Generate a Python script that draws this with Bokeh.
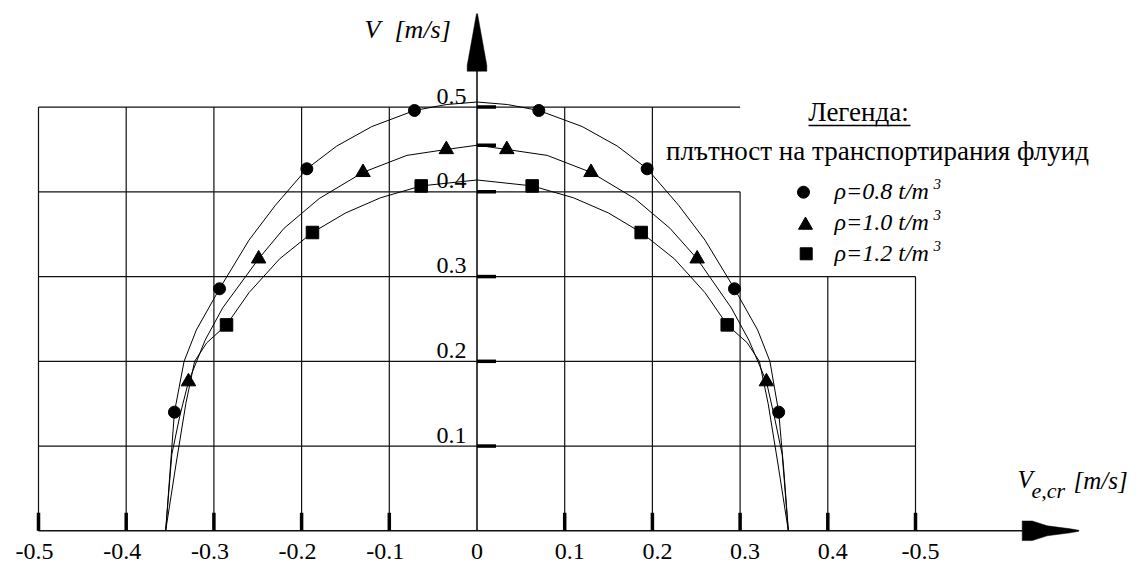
from bokeh.plotting import figure
from bokeh.models import Range1d
from bokeh.embed import file_html
from bokeh.resources import INLINE
from bokeh.core.properties import value

# ---------------- data ----------------
x_tick_values = [-0.5, -0.4, -0.3, -0.2, -0.1, 0.0, 0.1, 0.2, 0.3, 0.4, 0.5]
x_tick_labels = ["-0.5", "-0.4", "-0.3", "-0.2", "-0.1", "0", "0.1", "0.2", "0.3", "0.4", "-0.5"]
y_tick_values = [0.1, 0.2, 0.3, 0.4, 0.5]
y_tick_labels = ["0.1", "0.2", "0.3", "0.4", "0.5"]
y_extra_tick = [0.455]

legend_title = "Легенда:"
legend_subtitle = "плътност на транспортирания флуид"
series_labels = ["ρ=0.8 t/m", "ρ=1.0 t/m", "ρ=1.2 t/m"]
series_markers = ["circle", "triangle", "square"]

# measured points
rho08_pts_x = [-0.345, -0.2936, -0.194, -0.0713, 0.0705, 0.194, 0.2936, 0.344]
rho08_pts_v = [0.140, 0.2856, 0.4272, 0.496, 0.496, 0.4272, 0.2856, 0.140]
rho10_pts_x = [-0.329, -0.249, -0.130, -0.035, 0.034, 0.130, 0.251, 0.330]
rho10_pts_v = [0.176, 0.321, 0.423, 0.450, 0.450, 0.423, 0.321, 0.176]
rho12_pts_x = [-0.2856, -0.1876, -0.0636, 0.0629, 0.1872, 0.2853]
rho12_pts_v = [0.243, 0.352, 0.407, 0.407, 0.352, 0.243]

# curves drawn through the points
rho08_curve_x = [-0.355, -0.350, -0.345, -0.334, -0.320, -0.2936, -0.260, -0.230, -0.194, -0.160, -0.120,
                 -0.0713, -0.035, 0.0, 0.035, 0.0705, 0.120, 0.160, 0.194, 0.230, 0.260, 0.2936, 0.320,
                 0.334, 0.344, 0.350, 0.355]
rho08_curve_v = [0.0, 0.070, 0.140, 0.200, 0.237, 0.2856, 0.343, 0.384, 0.4272, 0.454, 0.477,
                 0.496, 0.503, 0.506, 0.503, 0.496, 0.477, 0.454, 0.4272, 0.384, 0.343, 0.2856, 0.237,
                 0.200, 0.140, 0.070, 0.0]
rho10_curve_x = [-0.355, -0.348, -0.339, -0.329, -0.310, -0.290, -0.249, -0.220, -0.180, -0.130, -0.080,
                 -0.035, 0.0, 0.034, 0.080, 0.130, 0.180, 0.220, 0.251, 0.290, 0.310, 0.330, 0.339,
                 0.348, 0.355]
rho10_curve_v = [0.0, 0.090, 0.135, 0.176, 0.225, 0.263, 0.321, 0.357, 0.392, 0.423, 0.443,
                 0.450, 0.455, 0.450, 0.443, 0.423, 0.392, 0.357, 0.321, 0.263, 0.225, 0.176, 0.135,
                 0.090, 0.0]
rho12_curve_x = [-0.355, -0.343, -0.332, -0.322, -0.308, -0.2856, -0.260, -0.225, -0.1876, -0.150, -0.110,
                 -0.0636, 0.0, 0.0629, 0.110, 0.150, 0.1872, 0.225, 0.260, 0.2853, 0.308, 0.322, 0.332,
                 0.343, 0.355]
rho12_curve_v = [0.0, 0.080, 0.150, 0.200, 0.222, 0.243, 0.281, 0.321, 0.352, 0.375, 0.393,
                 0.407, 0.414, 0.407, 0.393, 0.375, 0.352, 0.321, 0.281, 0.243, 0.222, 0.200, 0.150,
                 0.080, 0.0]

# irregular grid of the drawing
h_grid_y = [0.1, 0.2, 0.3, 0.4, 0.5]
h_grid_right = [0.5, 0.5, 0.5, 0.3, 0.3]
v_grid_x = [-0.5, -0.4, -0.3, -0.2, -0.1, 0.1, 0.2, 0.3, 0.4, 0.5]
v_grid_top = [0.5, 0.5, 0.5, 0.5, 0.5, 0.5, 0.5, 0.4, 0.3, 0.3]

# ---------------- layout helpers (pixel -> data) ----------------
W, H = 1142, 565
SX, SY = 877.0, 847.4
OX, OY = 476.5, 530.3


def X(px):
    return (px - OX) / SX


def Y(py):
    return (OY - py) / SY


FONT = value("Liberation Serif")
BASE_FIX = 0.33  # em correction so that the given y is the text baseline

p = figure(width=W, height=H,
           x_range=Range1d(X(0), X(W)), y_range=Range1d(Y(H), Y(0)),
           x_axis_type=None, y_axis_type=None,
           output_backend="svg", toolbar_location=None, min_border=0,
           outline_line_color=None, background_fill_color="white", border_fill_color="white")

INK = "#111111"

# grid
p.segment(x0=[-0.5] * len(h_grid_y), y0=h_grid_y, x1=h_grid_right, y1=h_grid_y,
          line_color=INK, line_width=1.2)
p.segment(x0=v_grid_x, y0=[0.0] * len(v_grid_x), x1=v_grid_x, y1=v_grid_top,
          line_color=INK, line_width=1.2)

# axes lines
p.segment(x0=[-0.5], y0=[0.0], x1=[X(1022)], y1=[0.0], line_color=INK, line_width=1.6)
p.segment(x0=[0.0], y0=[0.0], x1=[0.0], y1=[Y(70)], line_color=INK, line_width=1.6)

# tick marks
xt = [t for t in x_tick_values if t != 0.0]
p.segment(x0=xt, y0=[0.0] * len(xt), x1=xt, y1=[18 / SY] * len(xt),
          line_color="black", line_width=3.5, line_cap="butt")
yt = y_tick_values + y_extra_tick
p.segment(x0=[0.0] * len(yt), y0=yt, x1=[19 / SX] * len(yt), y1=yt,
          line_color="black", line_width=3.5, line_cap="butt")

# arrow heads
ya = [(-9.8, 0), (9.8, 0), (9.8, 5.7), (0.5, 57.4), (-0.5, 57.4), (-9.8, 5.7)]
p.patch([d[0] / SX for d in ya], [Y(70.7) + d[1] / SY for d in ya],
        fill_color="black", line_color="black", line_width=0.5)
xa = [(0, -9.8), (10, -9.8), (25, -5), (48, -2), (56.6, -0.5), (56.6, 0.5), (48, 2), (25, 5), (10, 9.8), (0, 9.8)]
p.patch([X(1021.7) + d[0] / SX for d in xa], [d[1] / SY for d in xa],
        fill_color="black", line_color="black", line_width=0.5)


def txt(xs, ys, texts, size, align="left", style="normal", xoff=0, yoff=0):
    p.text(x=xs, y=ys, text=texts, text_font=FONT, text_font_size=f"{size}px",
           text_font_style=style, text_align=align, text_baseline="alphabetic",
           x_offset=xoff, y_offset=yoff - BASE_FIX * size, text_color="black")


# tick labels
neg = [i for i, t in enumerate(x_tick_values) if t < 0]
zer = [i for i, t in enumerate(x_tick_values) if t == 0]
pos = [i for i, t in enumerate(x_tick_values) if t > 0]
txt([x_tick_values[i] for i in neg], [0.0] * len(neg), [x_tick_labels[i] for i in neg], 24,
    align="center", xoff=-4, yoff=28.7)
txt([x_tick_values[i] for i in zer], [0.0] * len(zer), [x_tick_labels[i] for i in zer], 24,
    align="center", xoff=0, yoff=28.7)
txt([x_tick_values[i] for i in pos], [0.0] * len(pos), [x_tick_labels[i] for i in pos], 24,
    align="center", xoff=5, yoff=28.7)
txt([0.0] * len(y_tick_values), y_tick_values, y_tick_labels, 24, align="right", xoff=-10.5, yoff=-3)

# axis titles
txt([X(364)], [Y(38)], ["V"], 26, style="italic")
txt([X(394)], [Y(38)], ["[m/s]"], 26, style="italic")
txt([X(1017)], [Y(487)], ["V"], 25, style="italic")
txt([X(1031)], [Y(497)], ["e,cr"], 22, style="italic")
txt([X(1073)], [Y(488)], ["[m/s]"], 25, style="italic")

# curves and points
p.line(rho08_curve_x, rho08_curve_v, line_color="black", line_width=1)
p.line(rho10_curve_x, rho10_curve_v, line_color="black", line_width=1)
p.line(rho12_curve_x, rho12_curve_v, line_color="black", line_width=1)
p.scatter(rho08_pts_x, rho08_pts_v, marker="circle", size=12, fill_color="black", line_color="black")
p.scatter(rho10_pts_x, rho10_pts_v, marker="triangle", size=14.5, fill_color="black", line_color="black")
p.scatter(rho12_pts_x, rho12_pts_v, marker="square", size=12.5, fill_color="black", line_color="black")

# legend
txt([X(858)], [Y(120)], [legend_title], 27, align="center")
p.segment(x0=[X(808)], y0=[Y(125)], x1=[X(910)], y1=[Y(125)], line_color="black", line_width=1.5)
txt([X(877)], [Y(159)], [legend_subtitle], 27, align="center")
lg_mx = [X(803), X(805), X(805.7)]
lg_my = [Y(191.7), Y(224.7), Y(253.3)]
lg_sz = [12, 14, 12]
for i in range(3):
    p.scatter([lg_mx[i]], [lg_my[i]], marker=series_markers[i], size=lg_sz[i],
              fill_color="black", line_color="black")
lg_base = [198, 229, 260]
txt([X(834)] * 3, [Y(b) for b in lg_base], series_labels, 24, style="italic")
txt([X(933)] * 3, [Y(b - 10) for b in lg_base], ["3", "3", "3"], 15, style="italic")

open("out.html", "w").write(file_html(p, INLINE))
